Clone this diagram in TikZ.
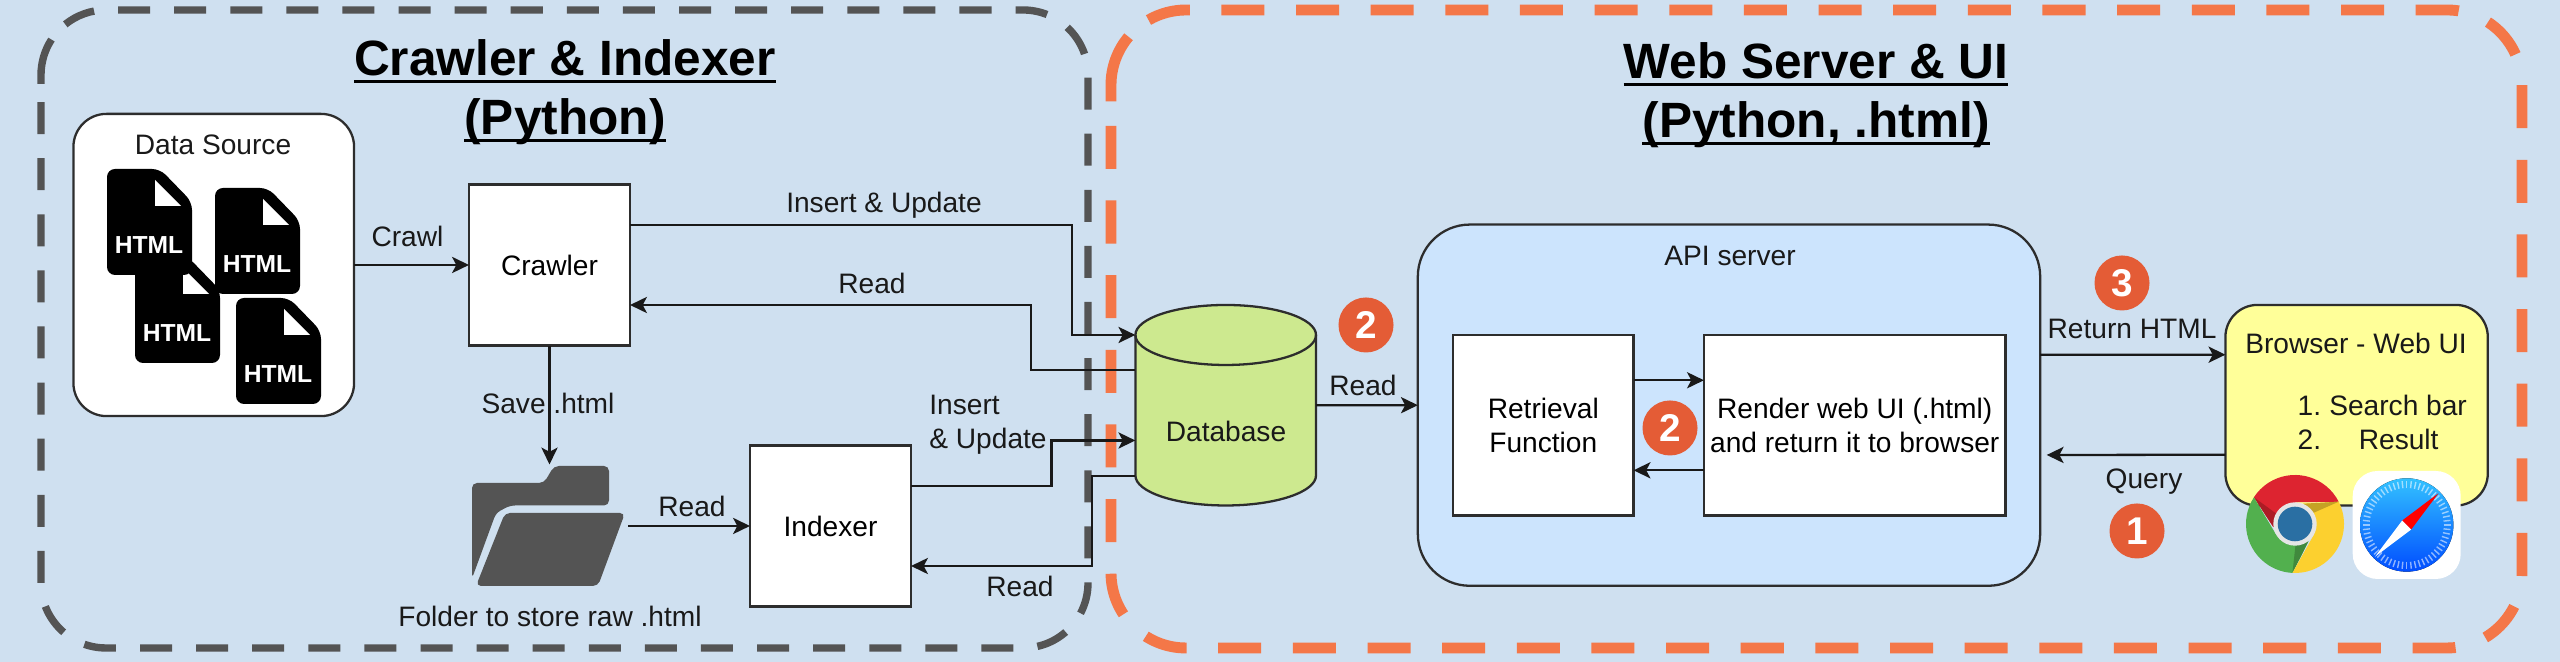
\documentclass[tikz,border=0pt]{standalone}
\usepackage{fontspec}
\setmainfont{Liberation Sans}
\usetikzlibrary{arrows.meta}
\definecolor{panel}{RGB}{207,224,240}
\definecolor{greydash}{RGB}{84,84,84}
\definecolor{orangedash}{RGB}{244,119,72}
\definecolor{line}{RGB}{45,45,45}
\definecolor{dbfill}{RGB}{205,233,143}
\definecolor{apifill}{RGB}{204,228,253}
\definecolor{yellowfill}{RGB}{255,255,153}
\definecolor{badgered}{RGB}{228,92,54}
\definecolor{chromered}{RGB}{221,36,48}
\definecolor{chromegreen}{RGB}{82,176,78}
\definecolor{chromeyellow}{RGB}{252,208,47}
\definecolor{chromeblue}{RGB}{42,111,163}
\newcommand{\titleline}[1]{\sbox0{#1}\usebox0\kern-\wd0\rule[-2.3pt]{\wd0}{0.85pt}}
\tikzset{
  box/.style={draw=line,fill=white,line width=0.65pt,inner sep=0pt,outer sep=0pt,align=center,minimum width=#1},
  roundbox/.style={box=#1,rounded corners=3.2mm},
  link/.style={-{Stealth[length=4.8pt,width=4.6pt,inset=1.2pt]},line width=0.65pt,color=black!90},
  lbl/.style={inner sep=0pt,align=center,color=black!90},
  badge/.style={circle,fill=badgered,text=white,inner sep=0pt,minimum size=5.5mm,font=\fontsize{11}{11}\selectfont\bfseries},
  paneltitle/.style={inner sep=0pt,align=center,font=\fontsize{14.1}{16.8}\selectfont\bfseries},
  greyedge/.style={greydash,line width=2.1pt},
  orangeedge/.style={orangedash,line width=3.1pt},
  htmlfile/.pic={
    \fill[black,rounded corners=0.8mm] (0,0) -- (53,0) -- (85,-33) -- (85,-106) -- (0,-106) -- cycle;
    \fill[white] (48,-11) -- (48,-37) -- (74,-37) -- cycle;
    \node[text=white,inner sep=0pt,font=\fontsize{7}{7}\selectfont\bfseries] (txt) at (42,-76) {HTML};
  }
}
\begin{document}
\begin{tikzpicture}[x=0.01cm,y=0.01cm,font=\fontsize{8}{9.8}\selectfont]
\useasboundingbox (0,0) rectangle (2560,662);
\fill[panel] (0,0) rectangle (2560,662);

% the two dashed panels, each closed by a short solid piece
\draw[greyedge,dash pattern=on 3.2mm off 2.406mm]
  ([shift={(128.8:65)}]106,587) arc (128.8:90:65) -- (1023,652) arc (90:0:65) -- (1088,79) arc (0:-90:65)
  -- (106,14) arc (-90:-180:65) -- (41,578);
\draw[greyedge] (41,578) -- (41,587) arc (180:147:65);
\draw[orangeedge,dash pattern=on 4.3mm off 3.16mm]
  ([shift={(120:75)}]1186,577) arc (120:90:75) -- (2447,652) arc (90:0:75) -- (2522,89) arc (0:-90:75)
  -- (1186,14) arc (-90:-180:75) -- (1111,560.6);
\draw[orangeedge] (1111,560.6) -- (1111,577) arc (180:140:75);

\node[paneltitle] (crawlertitle) at (565,570) {\titleline{Crawler \& Indexer}\\\titleline{(Python)}};
\node[paneltitle] (webtitle) at (1816,567) {\titleline{Web Server \& UI}\\\titleline{(Python, .html)}};

% data source with its files
\node[roundbox=28.05mm,minimum height=30.2mm,rounded corners=3.3mm] (datasrc) at (213.75,397) {};
\node[lbl] (datalabel) at (213,517) {Data Source};
\pic (fileC) at (135,405) {htmlfile};
\pic (fileA) at (107,493) {htmlfile};
\pic (fileB) at (215,474) {htmlfile};
\pic (fileD) at (236,364) {htmlfile};

\node[box=16.1mm,minimum height=16.1mm] (crawler) at (549.5,397) {Crawler};
\node[box=16.1mm,minimum height=16.1mm] (indexer) at (830.5,136) {Indexer};

% folder
\fill[greydash,rounded corners=0.5mm] (472,179) -- (544,179) -- (554,196) -- (609,196) -- (609,156.5) -- (510,156.5) -- (496,149) -- (472,83.5) -- cycle;
\fill[greydash,rounded corners=0.5mm] (505,149) -- (625,149) -- (598,76) -- (476,76) -- cycle;
\node[lbl] (folderlabel) at (550,45.5) {Folder to store raw .html};
\coordinate (folderin) at (549.5,197.5);
\coordinate (folderout) at (628,136);

% database, the node only gives the anchors
\node[inner sep=0pt,outer sep=0pt,minimum width=18.06mm,minimum height=20.05mm] (db) at (1225.7,256.75) {};
\draw[line,fill=dbfill,line width=0.65pt] (1135.4,327) arc (180:0:90.3 and 30) -- (1316,186.5) arc (0:-180:90.3 and 30) -- cycle;
\draw[line,line width=0.65pt] (1135.4,327) arc (180:360:90.3 and 30);
\node[lbl] (dblabel) at (1226,230.4) {Database};

\node[roundbox=62.2mm,minimum height=36.1mm,rounded corners=5.2mm,fill=apifill] (apiserver) at (1729,256.8) {};
\node[lbl] (apilabel) at (1730,406.5) {API server};
\node[box=18.05mm,minimum height=18.06mm] (retrieval) at (1543.25,236.7) {Retrieval\\Function};
\node[box=30.15mm,minimum height=18.06mm] (render) at (1854.75,236.7) {Render web UI (.html)\\and return it to browser};

\node[roundbox=26.22mm,minimum height=20.05mm,fill=yellowfill] (browser) at (2356.6,256.75) {};
\node[lbl] (browsertitle) at (2356,319) {Browser - Web UI};
\node[lbl,anchor=west] (browserone) at (2297,256.6) {1.\hspace{2.3pt}Search bar};
\node[lbl,anchor=west] (browsertwo) at (2297,222.4) {2.\hspace{10.7pt}Result};

% elbows of the connectors
\coordinate (E1) at (1072,327);
\coordinate (E2) at (1031,292);
\coordinate (E3) at (1051.4,221.5);
\coordinate (E4) at (1092,186);
\coordinate (queryend) at (2046.7,207);

\draw[link] (datasrc.east) -- (crawler.west);
\draw[link] (crawler.south) -- (folderin);
\draw[link] (folderout) -- (indexer.west);
\draw[link] ([yshift=4mm]crawler.east) -| (E1) -- (E1 -| db.west);
\draw[link] (E2 -| db.west) -- (E2) |- ([yshift=-4mm]crawler.east);
\draw[link] ([yshift=4mm]indexer.east) -| (E3) -- (E3 -| db.west);
\draw[link] (E4 -| db.west) -- (E4) |- ([yshift=-4mm]indexer.east);
\draw[link] (db.east) -- (apiserver.west);
\draw[link] ([yshift=4.5mm]retrieval.east) -- ([yshift=4.5mm]render.west);
\draw[link] ([yshift=-4.5mm]render.west) -- ([yshift=-4.5mm]retrieval.east);
\draw[link] ([yshift=5.05mm]apiserver.east) -- ([yshift=5.05mm]browser.west);
\draw[link] ([yshift=-4.95mm]browser.west) -- (queryend);

\node[lbl] (crawllabel) at (407.5,425.5) {Crawl};
\node[lbl] (savelabel) at (548,259) {Save .html};
\node[lbl] (readA) at (692,156) {Read};
\node[lbl] (insertA) at (884,457) {Insert \& Update};
\node[lbl] (readB) at (872,379) {Read};
\node[lbl,align=left] (insertB) at (988,237) {Insert\\\& Update};
\node[lbl] (readC) at (1020,76) {Read};
\node[lbl] (readD) at (1363,277) {Read};
\node[lbl] (returnlabel) at (2132,332.6) {Return HTML};
\node[lbl] (querylabel) at (2144,180) {Query};

\node[badge] (stepA) at (1366,337) {2};
\node[badge] (stepB) at (1670,234) {2};
\node[badge] (stepC) at (2122,379) {3};
\node[badge] (stepD) at (2137,131) {1};

% chrome icon
\begin{scope}[shift={(2295,138)}]
\foreach \col/\ang in {chromered/0,chromegreen/120,chromeyellow/240}{
  \fill[\col,rotate=\ang] (27:49) arc (27:147:49) -- (-21.7,-3) -- (0,0) -- (0,21.7) -- cycle;
  \fill[\col!78!black,rotate=\ang] (147:49) -- (-21.7,-3) -- (-19,10.5) -- cycle;
}
\fill[black!10] (0,0) circle (21.7);
\fill[chromeblue] (0,0) circle (17.3);
\end{scope}

% safari icon
\begin{scope}[shift={(2406.7,137)}]
\fill[white,rounded corners=2.5mm] (-54,-54) rectangle (54,54);
\fill[top color=cyan!70!blue!80,bottom color=blue!70!cyan] (0,0) circle (46.7);
\foreach \ang in {0,6,...,354}{
  \draw[white,opacity=0.55,line width=0.4pt] (\ang:37) -- (\ang:44);
}
\fill[red] (31.7,31.7) -- (-4.5,4.5) -- (4.5,-4.5) -- cycle;
\fill[white] (-31.7,-31.7) -- (-4.5,4.5) -- (4.5,-4.5) -- cycle;
\end{scope}
\end{tikzpicture}
\end{document}
